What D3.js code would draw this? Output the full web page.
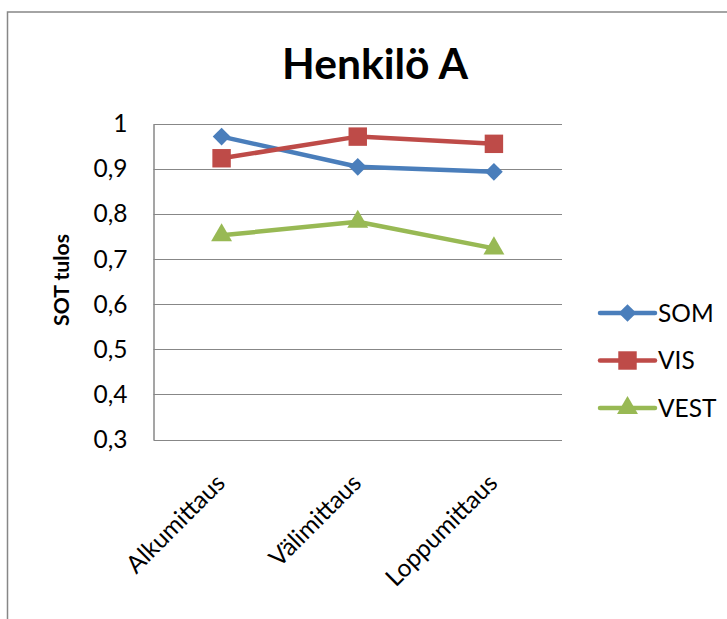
<!DOCTYPE html>
<html>
<head>
<meta charset="utf-8">
<script src="https://cdn.jsdelivr.net/npm/d3@7/dist/d3.min.js"></script>
<style>
  html, body { margin: 0; padding: 0; background: #fff; }
  svg { display: block; }
  text { font-family: Lato, "Open Sans", sans-serif; fill: #000; }
</style>
</head>
<body>
<svg id="chart" width="727" height="619"></svg>
<script>
// Measurement rounds
const categories = ["Alkumittaus", "Välimittaus", "Loppumittaus"];
// SOT results per condition
const som  = [0.972, 0.905, 0.894];
const vis  = [0.924, 0.972, 0.956];
const vest = [0.753, 0.783, 0.724];
const yTicks = [0.3, 0.4, 0.5, 0.6, 0.7, 0.8, 0.9, 1];
const yTickLabels = ["0,3", "0,4", "0,5", "0,6", "0,7", "0,8", "0,9", "1"];
const seriesNames = ["SOM", "VIS", "VEST"];
const titleText = "Henkilö A";
const yTitle = "SOT tulos";

const series = [
  { name: seriesNames[0], values: som,  color: "#4A7EBB", marker: "diamond" },
  { name: seriesNames[1], values: vis,  color: "#BE4B48", marker: "square" },
  { name: seriesNames[2], values: vest, color: "#98B954", marker: "triangle" }
];

const svg = d3.select("#chart");
const W = 727, H = 619;
const plot = { left: 153.5, right: 562, top: 124, bottom: 439.5 };
const labelSize = 24.5;

// outer chart frame
svg.append("rect")
  .attr("x", 7.5).attr("y", 12)
  .attr("width", W + 10).attr("height", H + 10)
  .attr("fill", "#fff").attr("stroke", "#878787").attr("stroke-width", 1.5);

const x = d3.scaleBand().domain(categories).range([plot.left, plot.right]);
const y = d3.scaleLinear().domain([0.3, 1]).range([plot.bottom, plot.top]);

// gridlines
svg.append("g").selectAll("line").data(yTicks).join("line")
  .attr("x1", plot.left).attr("x2", plot.right)
  .attr("y1", d => Math.round(y(d)) + 0.5).attr("y2", d => Math.round(y(d)) + 0.5)
  .attr("stroke", "#878787").attr("stroke-width", 1);

// y axis
const yAxis = d3.axisLeft(y).tickValues(yTicks)
  .tickFormat((d, i) => yTickLabels[i]).tickSize(0).tickPadding(26);
const gy = svg.append("g").attr("transform", `translate(${plot.left},0)`).call(yAxis);
gy.select(".domain").attr("stroke", "#878787").attr("stroke-width", 1.5);
gy.selectAll("text").style("font-size", labelSize + "px").attr("fill", "#000");

// x axis labels (rotated)
const xAxis = d3.axisBottom(x).tickSize(0).tickPadding(0);
const gx = svg.append("g").attr("transform", `translate(0,${plot.bottom})`).call(xAxis);
gx.select(".domain").remove();
gx.selectAll("text")
  .style("font-size", labelSize + "px")
  .attr("text-anchor", "end")
  .attr("dy", null)
  .attr("y", 0)
  .attr("transform", "translate(5,45) rotate(-45)");

// y axis title
const yt = svg.append("text")
  .attr("transform", "translate(69,280) rotate(-90)")
  .attr("text-anchor", "middle")
  .style("font-size", "21px").style("font-weight", "bold")
  .text(yTitle);
const ytw = yt.node().getComputedTextLength();
yt.style("font-size", (21 * 92 / ytw) + "px");

// chart title
const title = svg.append("text")
  .attr("x", 375).attr("y", 79)
  .attr("text-anchor", "middle")
  .style("font-size", "42px").style("font-weight", "bold")
  .text(titleText);
const tw = title.node().getComputedTextLength();
title.style("font-size", (42 * 186 / tw) + "px");

const symbolFor = {
  diamond: d3.symbol().type(d3.symbolDiamond2).size(200),
  square: d3.symbol().type(d3.symbolSquare).size(340),
  triangle: d3.symbol().type(d3.symbolTriangle).size(190)
};

const line = d3.line()
  .x((d, i) => x(categories[i]) + x.bandwidth() / 2)
  .y(d => y(d));

series.forEach(s => {
  svg.append("path").datum(s.values)
    .attr("d", line).attr("fill", "none")
    .attr("stroke", s.color).attr("stroke-width", 4.5)
    .attr("stroke-linejoin", "round").attr("stroke-linecap", "round");
  svg.append("g").selectAll("path").data(s.values).join("path")
    .attr("d", symbolFor[s.marker])
    .attr("transform", (d, i) => `translate(${x(categories[i]) + x.bandwidth() / 2},${y(d)})`)
    .attr("fill", s.color);
});

// legend
const legend = svg.append("g");
series.forEach((s, i) => {
  const ly = 313 + i * 47.5;
  legend.append("line")
    .attr("x1", 600).attr("x2", 655).attr("y1", ly).attr("y2", ly)
    .attr("stroke", s.color).attr("stroke-width", 4.5).attr("stroke-linecap", "round");
  legend.append("path")
    .attr("d", symbolFor[s.marker])
    .attr("transform", `translate(627.5,${ly})`)
    .attr("fill", s.color);
  legend.append("text")
    .attr("x", 658).attr("y", ly).attr("dy", "0.35em")
    .style("font-size", labelSize + "px")
    .text(s.name);
});
</script>
</body>
</html>
